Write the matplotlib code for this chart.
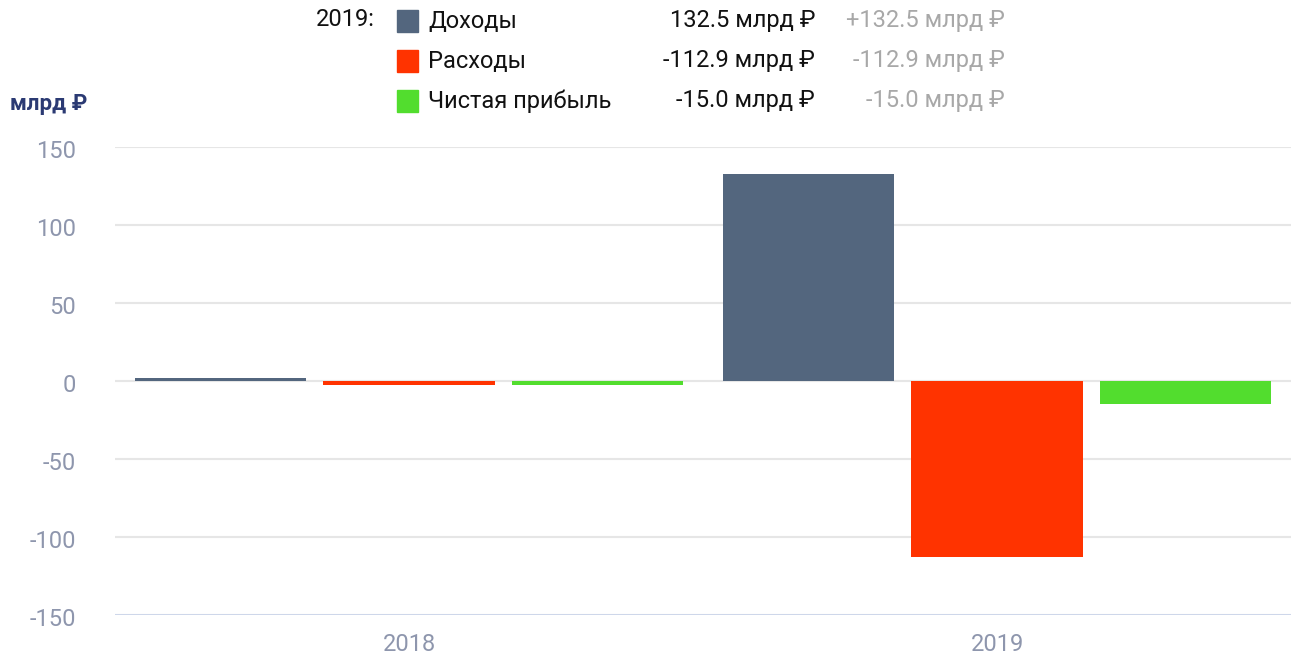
import numpy as np
import matplotlib.pyplot as plt
import matplotlib.transforms as mtransforms
from matplotlib.patches import Rectangle

plt.rcParams['font.family'] = ['Roboto', 'DejaVu Sans']
plt.rcParams['axes.unicode_minus'] = False

# data
years = ['2018', '2019']
series = ['Доходы', 'Расходы', 'Чистая прибыль']
income = [1.9, 132.5]
expenses = [-2.8, -112.9]
profit = [-2.8, -15.0]
colors = ['#53667e', '#ff3300', '#52dd2e']
legend_values = ['132.5 млрд ₽', '-112.9 млрд ₽', '-15.0 млрд ₽']
legend_changes = ['+132.5 млрд ₽', '-112.9 млрд ₽', '-15.0 млрд ₽']

W, H = 1294, 659
fig = plt.figure(figsize=(W / 100, H / 100), dpi=100)
ax = fig.add_axes([115 / W, 1 - 615 / H, (1291 - 115) / W, (615 - 147) / H])

x = np.arange(len(years))
offsets = [-0.32, 0.0, 0.32]
for vals, off, c in zip([income, expenses, profit], offsets, colors):
    ax.bar(x + off, vals, width=0.291, color=c, zorder=3)

ax.set_xlim(-0.5, 1.5)
ax.set_ylim(-150, 150)
ax.set_yticks([-150, -100, -50, 0, 50, 100, 150])
ax.set_xticks(x)
ax.set_xticklabels(years)
ax.grid(axis='y', color='#e6e6e6', linewidth=1.5, zorder=0)
ax.axhline(-150, color='#ccd6eb', linewidth=2, zorder=4)
for s in ax.spines.values():
    s.set_visible(False)
ax.tick_params(length=0, labelsize=17, colors='#8e96ad')
ax.tick_params(axis='x', pad=13)
ax.tick_params(axis='y', pad=28)

# shift y tick labels slightly below their gridlines
shift = mtransforms.ScaledTranslation(0, -5 / 100, fig.dpi_scale_trans)
for lab in ax.get_yticklabels():
    lab.set_verticalalignment('center')
    lab.set_transform(lab.get_transform() + shift)

fig.text(10 / W, 1 - 104 / H, 'млрд ₽', fontsize=16, fontweight='bold',
         color='#2b3a73', va='center', ha='left')

# legend on top
fig.text(375 / W, 1 - 20 / H, '2019:', fontsize=17, color='#111111',
         ha='right', va='center')
for i, name in enumerate(series):
    yc = 21 + 40 * i
    fig.patches.append(Rectangle((397 / W, 1 - (yc + 11) / H), 21 / W, 22 / H,
                                 transform=fig.transFigure, color=colors[i]))
    fig.text(428 / W, 1 - yc / H, name, fontsize=17, color='#111111',
             ha='left', va='center')
    fig.text(815 / W, 1 - yc / H, legend_values[i], fontsize=17, color='#111111',
             ha='right', va='center')
    fig.text(1005 / W, 1 - yc / H, legend_changes[i], fontsize=17, color='#a8a8a8',
             ha='right', va='center')

fig.savefig('out.png', dpi=100)
